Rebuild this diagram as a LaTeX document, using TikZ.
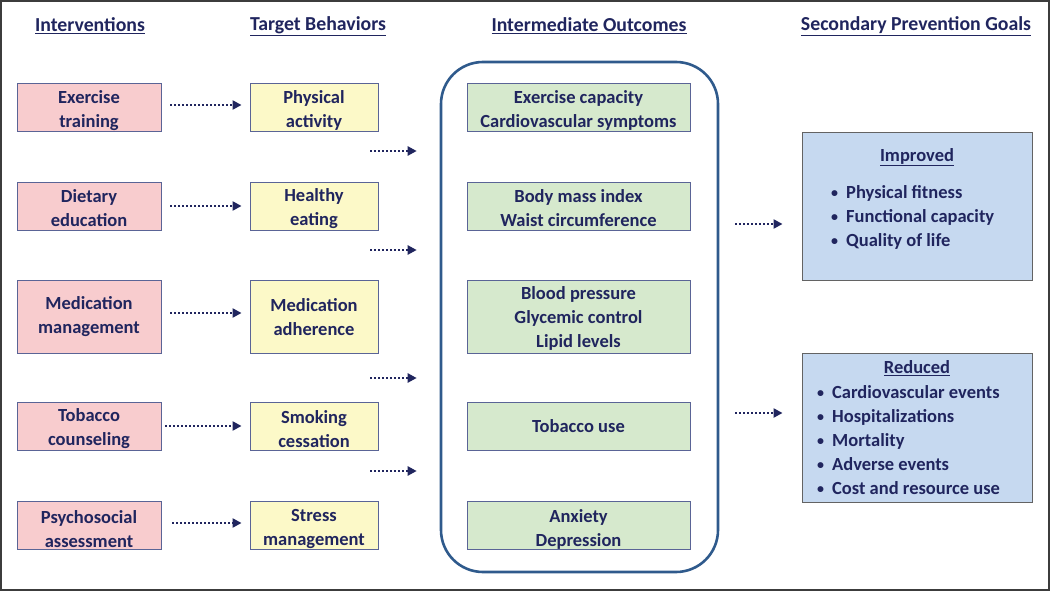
\documentclass[tikz,border=0pt]{standalone}
\usepackage{fontspec}
\setmainfont{Carlito}
\usetikzlibrary{arrows.meta}
\definecolor{navy}{RGB}{32,37,94}
\definecolor{boxline}{RGB}{90,100,150}
\definecolor{pinkfill}{RGB}{248,204,206}
\definecolor{yellowfill}{RGB}{252,249,200}
\definecolor{greenfill}{RGB}{214,233,205}
\definecolor{bluefill}{RGB}{198,217,240}
\definecolor{contline}{RGB}{47,90,140}
\definecolor{frameline}{RGB}{60,60,60}
\tikzset{
  lbl/.style={font=\bfseries\fontsize{18.5}{24}\selectfont, text=navy, align=center, inner sep=0pt},
  hdr/.style={lbl, font=\bfseries\fontsize{19.8}{24}\selectfont},
  basebox/.style={draw=boxline, line width=0.9pt, minimum height=48pt, inner sep=0pt},
  boxtextat/.style 2 args={label={[lbl, yshift=#1]center:{#2}}},
  boxtext/.style={boxtextat={-3.5pt}{#1}},
  pinkbox/.style={basebox, fill=pinkfill, minimum width=144pt},
  yellowbox/.style={basebox, fill=yellowfill, minimum width=128pt},
  greenbox/.style={basebox, fill=greenfill, minimum width=223pt},
  bluebox/.style={draw=frameline!80, line width=0.9pt, fill=bluefill, minimum width=230pt, minimum height=148pt, inner sep=0pt},
  flow/.style={draw=navy, line width=2.6pt, dash pattern=on 2pt off 2pt, -{Triangle[length=9pt,width=9pt]}},
}
\newcommand{\bul}{\makebox[15pt][l]{\raisebox{1pt}{\fontsize{14}{14}\selectfont\textbullet}}}
\begin{document}
\begin{tikzpicture}[x=1pt,y=-1pt]
\useasboundingbox (0,0) rectangle (1050,591);
\draw[frameline, line width=2pt] (1,1) rectangle (1049,590);

% headers
\node[hdr] (h1) at (90,26) {\underline{Interventions}};
\node[hdr] (h2) at (318,26) {\underline{Target Behaviors}};
\node[hdr] (h3) at (589,26) {\underline{Intermediate Outcomes}};
\node[hdr] (h4) at (916,26) {\underline{Secondary Prevention Goals}};

% interventions
\node[pinkbox, boxtext={Exercise\\training}] (p1) at (89,107) {};
\node[pinkbox, boxtextat={-2.5pt}{Dietary\\education}] (p2) at (89,206) {};
\node[pinkbox, minimum height=73pt, boxtextat={-0.5pt}{Medication\\management}] (p3) at (89,316.5) {};
\node[pinkbox, boxtextat={-2.5pt}{Tobacco\\counseling}] (p4) at (89,426.5) {};
\node[pinkbox, boxtext={Psychosocial\\assessment}] (p5) at (89,525.5) {};

% target behaviors
\node[yellowbox, boxtext={Physical\\activity}] (y1) at (314,107) {};
\node[yellowbox, boxtextat={-2.5pt}{Healthy\\eating}] (y2) at (314,206) {};
\node[yellowbox, minimum height=73pt, boxtextat={-0.5pt}{Medication\\adherence}] (y3) at (314,316.5) {};
\node[yellowbox, boxtextat={-2.5pt}{Smoking\\cessation}] (y4) at (314,426.5) {};
\node[yellowbox, boxtext={Stress\\management}] (y5) at (314,525.5) {};

% container
\node[draw=contline, line width=2.6pt, rounded corners=42pt, minimum width=277pt, minimum height=510pt, inner sep=0pt] (cont) at (579.5,317) {};

% intermediate outcomes
\node[greenbox, boxtext={Exercise capacity\\Cardiovascular symptoms}] (g1) at (578.5,107) {};
\node[greenbox, boxtextat={-2.5pt}{Body mass index\\Waist circumference}] (g2) at (578.5,206) {};
\node[greenbox, minimum height=73pt, boxtextat={-1.5pt}{Blood pressure\\Glycemic control\\Lipid levels}] (g3) at (578.5,316.5) {};
\node[greenbox, boxtextat={0.5pt}{Tobacco use}] (g4) at (578.5,426.5) {};
\node[greenbox, boxtext={Anxiety\\Depression}] (g5) at (578.5,525.5) {};

% goals
\node[bluebox] (b1) at (917,206) {};
\node[lbl] (b1h) at (917,157) {\underline{Improved}};
\node[lbl, align=left, anchor=west] (b1l) at (831,217.5) {\bul Physical fitness\\\bul Functional capacity\\\bul Quality of life};
\node[bluebox, minimum height=149pt] (b2) at (917,427.5) {};
\node[lbl] (b2h) at (917,368) {\underline{Reduced}};
\node[lbl, align=left, anchor=west] (b2l) at (817,440.5) {\bul Cardiovascular events\\\bul Hospitalizations\\\bul Mortality\\\bul Adverse events\\\bul Cost and resource use};

% arrows interventions -> behaviors
\draw[flow, shorten <=9pt, shorten >=8pt] (p1.east |- 0,105) -- (y1.west |- 0,105);
\draw[flow, shorten <=9pt, shorten >=8pt] (p2.east |- 0,206) -- (y2.west |- 0,206);
\draw[flow, shorten <=9pt, shorten >=8pt] (p3.east |- 0,313) -- (y3.west |- 0,313);
\draw[flow, shorten <=4pt, shorten >=8pt] (p4.east |- 0,426) -- (y4.west |- 0,426);
\draw[flow, shorten <=11pt, shorten >=8pt] (p5.east |- 0,523) -- (y5.west |- 0,523);

% arrows behaviors -> outcomes
\coordinate (s1) at (370,151);
\coordinate (s2) at (370,250);
\coordinate (s3) at (370,378);
\coordinate (s4) at (370,471);
\foreach \s in {s1,s2,s3,s4} {
  \draw[flow, shorten >=23pt] (\s) -- (\s -| cont.west);
}

% arrows outcomes -> goals
\coordinate (r1) at (735,224);
\coordinate (r2) at (735,413);
\draw[flow, shorten >=19pt] (r1) -- (r1 -| b1.west);
\draw[flow, shorten >=19pt] (r2) -- (r2 -| b2.west);
\end{tikzpicture}
\end{document}
